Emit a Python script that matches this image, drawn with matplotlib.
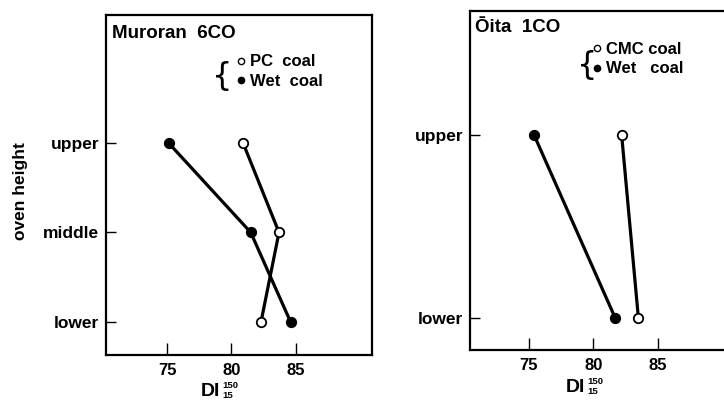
import matplotlib
matplotlib.use("Agg")
import matplotlib.pyplot as plt
from matplotlib.lines import Line2D

plt.rcParams["font.family"] = ["Liberation Sans", "DejaVu Sans"]
plt.rcParams["font.weight"] = "bold"

# Muroran 6CO
mur_levels = [2, 1, 0]
mur_labels = ["upper", "middle", "lower"]
mur_pc = [80.9, 83.7, 82.3]
mur_wet = [75.1, 81.5, 84.6]

# Oita 1CO
oit_levels = [2, 0]
oit_labels = ["upper", "lower"]
oit_cmc = [82.2, 83.5]
oit_wet = [75.4, 81.7]

x_ticks = [75, 80, 85]

W, H = 724, 401
fig = plt.figure(figsize=(7.24, 4.01), dpi=100)
ax1 = fig.add_axes([0.1464, 0.1147, 0.3674, 0.848])
ax2 = fig.add_axes([0.6492, 0.1272, 0.366, 0.8454])


def px(x, y):
    return x / W, 1 - y / H


def di_label(x, y):
    # "DI" with stacked 150 / 15 indices, placed in figure pixels
    fig.text(*px(x, y), "DI", fontsize=14, fontweight="bold", ha="center", va="center")
    fig.text(*px(x + 12, y - 5), "150", fontsize=6.8, fontweight="bold", ha="left", va="center")
    fig.text(*px(x + 12, y + 5), "15", fontsize=6.8, fontweight="bold", ha="left", va="center")


def style(ax, levels, labels, xlim, ylim):
    ax.set_xlim(*xlim)
    ax.set_ylim(*ylim)
    ax.set_yticks(levels)
    ax.set_yticklabels(labels, fontsize=12.5, fontweight="bold")
    ax.set_xticks(x_ticks)
    ax.set_xticklabels([str(t) for t in x_ticks], fontsize=12, fontweight="bold")
    ax.tick_params(axis="y", direction="in", length=7, width=1.0, pad=5)
    ax.tick_params(axis="x", direction="in", length=8.5, width=1.0, pad=6)
    for sp in ax.spines.values():
        sp.set_linewidth(1.6)


def series(ax, x, y, filled):
    ax.plot(x, y, color="black", lw=2.3, marker="o", ms=6.8,
            mfc="black" if filled else "white", mec="black", mew=1.3, zorder=3)


def legend(ax, names, x, y, bx, by):
    handles = [Line2D([], [], ls="none", marker="o", ms=4.5, mfc="white", mec="black", mew=1),
               Line2D([], [], ls="none", marker="o", ms=4.5, mfc="black", mec="black")]
    ax.legend(handles, names, loc="upper left", bbox_to_anchor=(x, y),
              frameon=False, handlelength=0.6, handletextpad=0.25,
              labelspacing=0.25, borderpad=0, borderaxespad=0,
              prop={"weight": "bold", "size": 12})
    ax.text(bx, by, "{", transform=ax.transAxes, fontsize=23,
            va="center", ha="center", fontweight="normal", family="DejaVu Sans")


series(ax1, mur_pc, mur_levels, False)
series(ax1, mur_wet, mur_levels, True)
style(ax1, mur_levels, mur_labels, (70.23, 90.94), (-0.37, 3.43))
ax1.text(0.022, 0.932, "Muroran  6CO", transform=ax1.transAxes, fontsize=13.5,
         fontweight="bold", va="baseline", ha="left")
legend(ax1, ["PC  coal", "Wet  coal"], 0.489, 0.884, 0.436, 0.82)
di_label(210, 391)

series(ax2, oit_cmc, oit_levels, False)
series(ax2, oit_wet, oit_levels, True)
style(ax2, oit_levels, oit_labels, (70.43, 91.0), (-0.35, 3.355))
ax2.text(0.019, 0.938, "\u014cita  1CO", transform=ax2.transAxes, fontsize=13.5,
         fontweight="bold", va="baseline", ha="left")
legend(ax2, ["CMC coal", "Wet   coal"], 0.46, 0.908, 0.443, 0.84)
di_label(575, 387)

fig.text(0.028, 0.524, "oven height", rotation=90, fontsize=12.5,
         fontweight="bold", ha="center", va="center")

fig.savefig("out.png", dpi=100)
